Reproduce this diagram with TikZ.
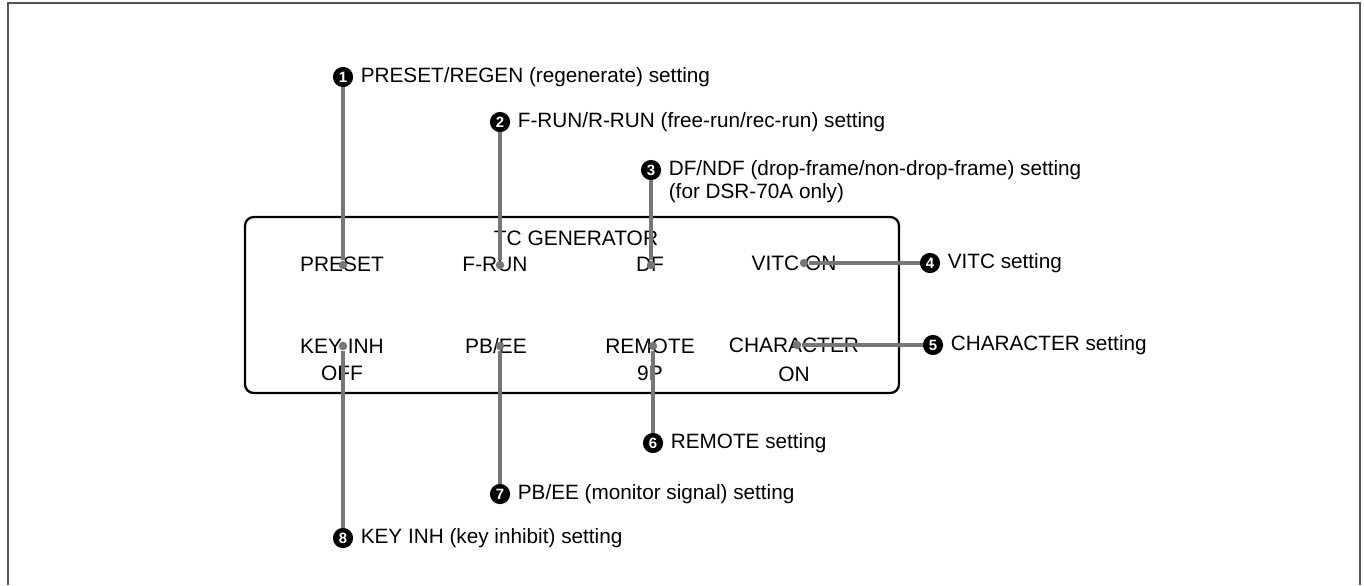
\documentclass[tikz,border=0pt]{standalone}
\usepackage{fontspec}
\setmainfont{Liberation Sans}
\usetikzlibrary{positioning}
\definecolor{leadgray}{RGB}{118,118,118}
\definecolor{framegray}{RGB}{85,85,85}

\begin{document}
\begin{tikzpicture}[x=0.02cm,y=-0.02cm,
  screentext/.style={font=\fontsize{11.9}{14}\selectfont,inner sep=0pt},
  calltext/.style={font=\fontsize{11.8}{14}\selectfont,inner sep=0pt},
  callnum/.style={circle,fill=black,text=white,inner sep=0pt,minimum size=11.5pt,
    font=\fontsize{8.5}{9}\selectfont\bfseries},
  tipdot/.style={circle,fill=leadgray,inner sep=0pt,minimum size=4.8pt},
  leader/.style={leadgray,line width=1.8pt}]
  \useasboundingbox (0,0) rectangle (1364,585);

  % page frame, open at the bottom
  \draw[framegray,line width=1.1pt] (8,585) -- (8,3) -- (1360,3) -- (1360,585);

  % display panel
  \draw[line width=1.3pt,rounded corners=5pt] (245,217) rectangle (899,393);
  \node[screentext] (title) at (576,238) {TC GENERATOR};
  \node[screentext] (preset) at (342,264) {PRESET};
  \node[screentext] (frun) at (495,264) {F-RUN};
  \node[screentext] (df) at (650,264) {DF};
  \node[screentext] (vitc) at (794,263) {VITC ON};
  \node[screentext] (keyinh) at (342,346) {KEY INH};
  \node[screentext] (keyoff) at (342,373) {OFF};
  \node[screentext] (pbee) at (496,346) {PB/EE};
  \node[screentext] (remote) at (650,346) {REMOTE};
  \node[screentext] (ninep) at (650,373) {9P};
  \node[screentext] (chara) at (794,345) {CHARACTER};
  \node[screentext] (charon) at (794,374) {ON};

  % leader ends on the panel
  \foreach \i/\x/\y in {1/343/265,2/500/265,3/651/265,4/804/263,
                        5/797/345,6/653/346,7/500/346,8/343/346}
    \node[tipdot] (d\i) at (\x,\y) {};

  % numbered callouts
  \foreach \i/\x/\y in {1/343/77,2/500/122,3/651/170,4/930/263,
                        5/933/345,6/653/443,7/500/494,8/343/538}
    \node[callnum] (n\i) at (\x,\y) {\i};

  \foreach \i in {1,...,8}
    \draw[leader] (n\i) -- (d\i);

  \node[calltext,right=4pt of n1] (t1) {PRESET/REGEN (regenerate) setting};
  \node[calltext,right=4pt of n2] (t2) {F-RUN/R-RUN (free-run/rec-run) setting};
  \node[calltext,right=4pt of n3] (t3) {DF/NDF (drop-frame/non-drop-frame) setting};
  \node[calltext,anchor=west] (t3b) at ([yshift=-0.46cm]t3.west) {(for DSR-70A only)};
  \node[calltext,right=4pt of n4] (t4) {VITC setting};
  \node[calltext,right=4pt of n5] (t5) {CHARACTER setting};
  \node[calltext,right=4pt of n6] (t6) {REMOTE setting};
  \node[calltext,right=4pt of n7] (t7) {PB/EE (monitor signal) setting};
  \node[calltext,right=4pt of n8] (t8) {KEY INH (key inhibit) setting};
\end{tikzpicture}
\end{document}
